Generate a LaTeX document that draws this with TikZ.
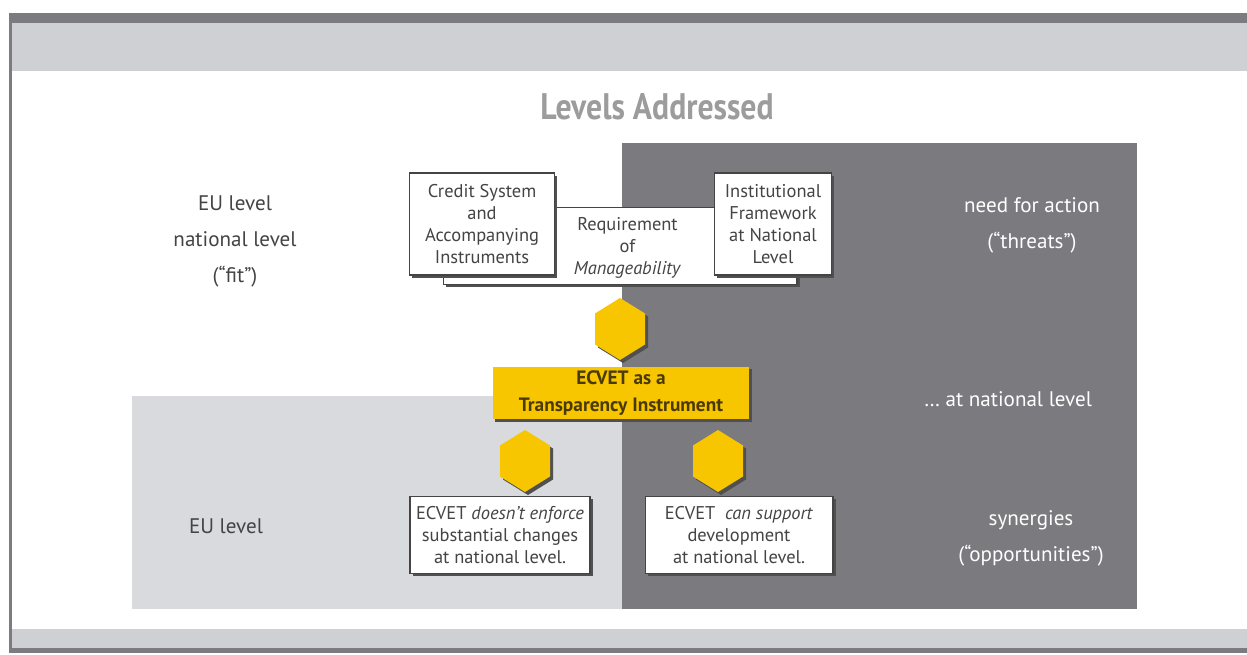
\documentclass[tikz,border=0pt]{standalone}
\usepackage{fontspec}
\setmainfont{PT Sans}
\usetikzlibrary{shadows}

\definecolor{bandgrey}{HTML}{CFD0D4}
\definecolor{framegrey}{HTML}{7C7B80}
\definecolor{darkzone}{HTML}{7B7A7F}
\definecolor{lightzone}{HTML}{D8DADD}
\definecolor{ecvetgold}{HTML}{F7C600}
\definecolor{titlegrey}{HTML}{9C9C9C}
\definecolor{textgrey}{HTML}{444444}
\definecolor{shadowgrey}{HTML}{505050}
\definecolor{goldtext}{HTML}{4A3A00}

\begin{document}
\begin{tikzpicture}[x=0.02cm,y=-0.02cm,
		levelbox/.style={draw=textgrey,line width=0.6pt,fill=white,text=textgrey,
			align=center,font=\fontsize{10.5}{12.5}\selectfont,inner sep=0pt,
			drop shadow={shadow xshift=1.6pt,shadow yshift=-1.6pt,fill=shadowgrey,opacity=1}},
		sidelabel/.style={align=center,font=\fontsize{12}{20.5}\selectfont},
		hexa/.pic={
			\fill[shadowgrey] (3,-28) -- (28,-12.5) -- (28,18.5) -- (3,34) -- (-22,18.5) -- (-22,-12.5) -- cycle;
			\fill[ecvetgold] (0,-31) -- (25,-15.5) -- (25,15.5) -- (0,31) -- (-25,15.5) -- (-25,-15.5) -- cycle;
		}]
	\useasboundingbox (0,0) rectangle (1247,655);
	\fill[white] (0,0) rectangle (1247,655);

	% frame
	\fill[framegrey] (10,13) rectangle (1247,23);
	\fill[bandgrey] (10,23) rectangle (1247,71);
	\fill[bandgrey] (10,629) rectangle (1247,648);
	\fill[framegrey] (10,648) rectangle (1247,653);
	\fill[framegrey] (9,13) rectangle (12,653);

	% zones
	\fill[lightzone] (132,396) rectangle (624,609);
	\fill[darkzone] (622,143) rectangle (1137,609);

	\node[font=\bfseries\fontsize{21}{24}\selectfont,text=titlegrey] (title) at (657,107)
		{\scalebox{0.86}[1]{Levels Addressed}};

	\node[sidelabel,text=textgrey] (fit) at (235,241) {EU level\\national level\\(“fit”)};
	\node[sidelabel,text=textgrey] (eu) at (226,526) {EU level};
	\node[sidelabel,text=white] (threats) at (1032,225) {need for action\\(“threats”)};
	\node[sidelabel,text=white] (natlevel) at (1008,399) {\dots\ at national level};
	\node[sidelabel,text=white] (opps) at (1031,538) {synergies\\(“opportunities”)};

	\node[levelbox,minimum width=7.08cm,minimum height=1.54cm,text depth=0pt] (manage) at (620,246)
		{\hspace*{0.3cm}Requirement\\\hspace*{0.3cm}of\\\hspace*{0.3cm}\textit{Manageability}};
	\node[levelbox,minimum width=2.9cm,minimum height=2.04cm] (credit) at (482,224)
		{Credit System\\and\\Accompanying\\Instruments};
	\node[levelbox,minimum width=2.34cm,minimum height=2.04cm] (frame) at (773,224)
		{Institutional\\Framework\\at National\\Level};

	\pic at (620,329) {hexa};

	\node[fill=ecvetgold,text=goldtext,align=center,inner sep=0pt,
		minimum width=5.14cm,minimum height=1.06cm,
		font=\bfseries\fontsize{11}{15.5}\selectfont,
		drop shadow={shadow xshift=1.6pt,shadow yshift=-1.6pt,fill=shadowgrey,opacity=1}] (ecvet) at (621,393)
		{ECVET as a\\Transparency Instrument};

	\pic at (525,461) {hexa};
	\pic at (718,461) {hexa};

	\node[levelbox,minimum width=3.6cm,minimum height=1.54cm] (enforce) at (500,535)
		{ECVET \textit{doesn’t enforce}\\substantial changes\\at national level.};
	\node[levelbox,minimum width=3.76cm,minimum height=1.54cm] (support) at (739,535)
		{ECVET\ \ \textit{can support}\\development\\at national level.};
\end{tikzpicture}
\end{document}
